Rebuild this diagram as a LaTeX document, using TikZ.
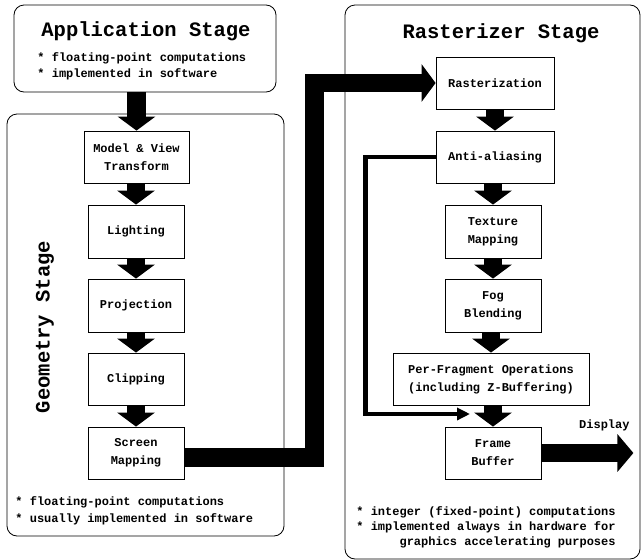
\documentclass[tikz,border=0pt]{standalone}
\usepackage{fontspec}
\setmonofont{Liberation Mono}
\usetikzlibrary{arrows.meta}

\begin{document}
\begin{tikzpicture}[x=1pt,y=-1pt,line width=0.8pt,
  stagebox/.style={draw,rounded corners=10pt,inner sep=0pt},
  stepbox/.style={draw,fill=white,inner sep=0pt,align=center,minimum height=52pt,
    font=\ttfamily\bfseries\fontsize{12}{18}\selectfont},
  title/.style={font=\ttfamily\bfseries\fontsize{20.5}{24}\selectfont},
  note/.style={align=left,inner sep=0pt,font=\ttfamily\bfseries\fontsize{12}{16.5}\selectfont},
  bigarrow/.style={line width=18.5pt,-{Triangle[length=14pt,width=37pt]}},
  thinarrow/.style={line width=4.5pt,-{Triangle[length=13pt,width=12pt]}}]
\useasboundingbox (0,0) rectangle (641,560);
% ================= stage frames =================
\node[stagebox,minimum width=262pt,minimum height=87pt] (app) at (145,48.5) {};
\node[stagebox,minimum width=277pt,minimum height=422pt] (geo) at (145.5,325) {};
\node[stagebox,minimum width=295pt,minimum height=554pt] (rast) at (492.5,282) {};
% titles and notes
\node[title] (apptitle) at (146,31) {Application Stage};
\node[note,anchor=west] (appnote) at (37,66.5) {* floating-point computations\\* implemented in software};
\node[title,rotate=90] (geotitle) at (45,327) {Geometry Stage};
\node[note,anchor=west] (geonote) at (15,511) {* floating-point computations\\* usually implemented in software};
\node[title] (rasttitle) at (501,33) {Rasterizer Stage};
\node[note,align=right,anchor=east,font=\ttfamily\bfseries\fontsize{12}{15}\selectfont] (rastnote) at (616,527)
  {* integer (fixed-point) computations\\* implemented always in hardware for\\graphics accelerating purposes};
% ================= geometry steps =================
\node[stepbox,minimum width=105pt] (mvt) at (136.5,157) {Model \& View\\Transform};
\node[stepbox,minimum width=96pt,minimum height=53pt] (light) at (136,231.5) {Lighting};
\node[stepbox,minimum width=96pt,minimum height=53pt] (proj) at (136,305.5) {Projection};
\node[stepbox,minimum width=96pt] (clip) at (136,379) {Clipping};
\node[stepbox,minimum width=96pt] (smap) at (136,453) {Screen\\Mapping};
% ================= rasterizer steps =================
\node[stepbox,minimum width=118pt] (rasz) at (495,83) {Rasterization};
\node[stepbox,minimum width=118pt] (anti) at (495,157) {Anti-aliasing};
\node[stepbox,minimum width=96pt,minimum height=53pt] (tex) at (493,231.5) {Texture\\Mapping};
\node[stepbox,minimum width=96pt,minimum height=53pt] (fog) at (493,305.5) {Fog\\Blending};
\node[stepbox,minimum width=196pt] (pfrag) at (491,379) {Per-Fragment Operations\\(including Z-Buffering)};
\node[stepbox,minimum width=96pt] (fbuf) at (493,453) {Frame\\Buffer};
\node[note,anchor=east] (disp) at (630,425) {Display};
\coordinate (merge) at (470,414);
% ================= block arrows =================
\draw[bigarrow] (mvt.north |- app.south) -- (mvt.north);
\foreach \a/\b in {mvt/light,light/proj,proj/clip,clip/smap,rasz/anti,anti/tex,tex/fog,fog/pfrag}
  \draw[bigarrow] (\b.north |- \a.south) -- (\b.north);
\draw[bigarrow] (pfrag.south -| fbuf.north) -- (fbuf.north);
\draw[bigarrow] ([yshift=-4.5pt]smap.east) -- ++(130,0) |- (rasz.west);
\draw[bigarrow,-{Triangle[length=16pt,width=37pt]}] (fbuf.east) -- ++(92,0);
% anti-aliasing bypass
\draw[thinarrow] (anti.west) -- ++(-70,0) |- (merge);
\end{tikzpicture}
\end{document}
